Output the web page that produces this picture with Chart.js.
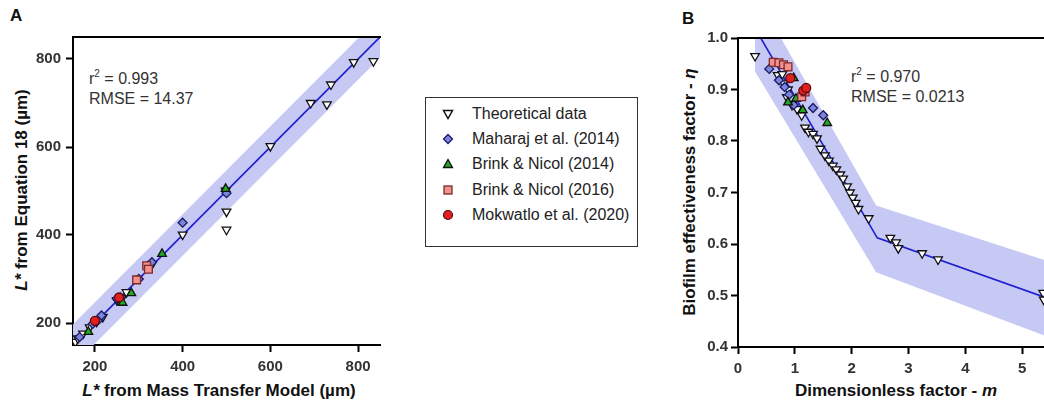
<!DOCTYPE html>
<html>
<head>
<meta charset="utf-8">
<script src="https://cdn.jsdelivr.net/npm/chart.js@4.4.1/dist/chart.umd.min.js"></script>
<style>
  html, body { margin: 0; padding: 0; background: #fff; }
  body { width: 1044px; height: 408px; overflow: hidden; position: relative;
         font-family: "Liberation Sans", Arial, sans-serif; }
  canvas { position: absolute; top: 0; z-index: 2; }
  #chartA { left: 0; }
  #chartB { left: 660px; }
  .lbl { position: absolute; white-space: nowrap; z-index: 1; }
  .panel { font-weight: bold; font-size: 17px; line-height: 17px; color: #111; }
  .stats { font-size: 16px; line-height: 20px; color: #333; }
  .stats sup { font-size: 10px; vertical-align: 7px; line-height: 0; }
  .xt { font-weight: bold; font-size: 17px; color: #111; transform: translate(-50%, -50%); }
  .yt { font-weight: bold; font-size: 17px; color: #111; transform: translate(-50%, -50%) rotate(-90deg); }
  #legend { position: absolute; left: 425px; top: 97px; width: 213px; height: 150px; z-index: 1;
            border: 1.5px solid #333; box-sizing: border-box; font-size: 16px; color: #222; }
  .item { position: absolute; left: 0; width: 210px; height: 20px; }
  .item svg { position: absolute; left: 16px; top: 4px; }
  .item span { position: absolute; left: 46px; top: 1px; white-space: nowrap; }
  #frameB { position: absolute; left: 737px; top: 37px; width: 310px; height: 0;
            border-top: 2px solid #000; z-index: 3; }
</style>
</head>
<body>
<canvas id="chartA" width="400" height="408"></canvas>
<canvas id="chartB" width="440" height="408"></canvas>
<div id="frameB"></div>

<div class="lbl panel" style="left:10px;top:7px;">A</div>
<div class="lbl panel" style="left:682px;top:10px;">B</div>
<div class="lbl stats" style="left:89px;top:69px;">r<sup>2</sup> = 0.993<br>RMSE = 14.37</div>
<div class="lbl stats" style="left:851px;top:67px;">r<sup>2</sup> = 0.970<br>RMSE = 0.0213</div>
<div class="lbl xt" style="left:219px;top:391px;"><i>L*</i> from Mass Transfer Model (µm)</div>
<div class="lbl yt" style="left:22px;top:190px;"><i>L*</i> from Equation 18 (µm)</div>
<div class="lbl xt" style="left:896px;top:391px;">Dimensionless factor - <i>m</i></div>
<div class="lbl yt" style="left:690px;top:192px;">Biofilm effectiveness factor - <i>η</i></div>
<div id="legend"></div>

<script>
// ─── Series names ───────────────────────────────────────────────────────────
const seriesNames = ['Theoretical data', 'Maharaj et al. (2014)', 'Brink & Nicol (2014)',
                     'Brink & Nicol (2016)', 'Mokwatlo et al. (2020)'];

// ─── Panel A: L* from model vs L* from Equation 18 ─────────────────────────
const theoAx = [155, 161, 173, 188, 204, 218, 250, 262, 272, 330, 400, 498, 500, 500, 600, 692, 729, 738, 790, 835];
const theoAy = [157, 165, 176, 190, 203, 214, 252, 257, 270, 333, 401, 501, 453, 412, 602, 700, 697, 742, 793, 795];
const mahAx = [165, 195, 208, 215, 250, 258, 300, 320, 330, 400, 500];
const mahAy = [168, 198, 207, 217, 255, 258, 300, 330, 338, 428, 495];
const brink14Ax = [185, 263, 283, 353, 498];
const brink14Ay = [180, 246, 268, 357, 505];
const brink16Ax = [295, 318, 322];
const brink16Ay = [298, 330, 322];
const mokAx = [200, 255];
const mokAy = [205, 258];
const fitAx = [150, 850];
const fitAy = [150, 850];
const bandAx = [150, 850];
const bandAupper = [197, 897];
const bandAlower = [103, 803];
const ticksA = [200, 400, 600, 800];

// ─── Panel B: m vs effectiveness factor ────────────────────────────────────
const theoBx = [0.30, 0.70, 0.78, 0.80, 0.86, 0.88, 0.95, 1.04, 1.12, 1.18, 1.24, 1.32, 1.39, 1.45, 1.53, 1.60,
                1.67, 1.73, 1.80, 1.85, 1.92, 1.97, 2.02, 2.07, 2.12, 2.30, 2.68, 2.78, 2.82, 3.24, 3.52, 5.37, 5.38];
const theoBy = [0.965, 0.928, 0.930, 0.912, 0.885, 0.900, 0.870, 0.862, 0.850, 0.826, 0.818, 0.814, 0.805, 0.785,
                0.772, 0.762, 0.752, 0.745, 0.735, 0.727, 0.712, 0.700, 0.690, 0.680, 0.668, 0.650, 0.612, 0.603,
                0.592, 0.582, 0.570, 0.505, 0.492];
const mahBx = [0.55, 0.72, 0.82, 0.90, 0.98, 1.32, 1.50];
const mahBy = [0.940, 0.918, 0.905, 0.890, 0.870, 0.864, 0.850];
const brink14Bx = [0.88, 0.98, 1.02, 1.14, 1.57];
const brink14By = [0.875, 0.922, 0.882, 0.860, 0.835];
const brink16Bx = [0.62, 0.72, 0.80, 0.88, 1.12, 1.18];
const brink16By = [0.953, 0.952, 0.948, 0.944, 0.886, 0.895];
const mokBx = [0.92, 1.15, 1.20];
const mokBy = [0.922, 0.898, 0.903];
const fitBx = [0.40, 2.45, 6];
const fitBy = [1.0, 0.612, 0.473];
const bandBx = [0.30, 2.43, 6];
const bandBupper = [1.088, 0.675, 0.547];
const bandBlower = [0.935, 0.545, 0.397];
const ticksBx = [0, 1, 2, 3, 4, 5];
const ticksBy = [0.4, 0.5, 0.6, 0.7, 0.8, 0.9, 1.0];

// ─── Styles ─────────────────────────────────────────────────────────────────
const markerFill = ['#ffffff', '#7b86d8', '#22a822', '#f3908c', '#e02020'];
const markerEdge = ['#111111', '#1a1a66', '#111111', '#7a2a2a', '#5a0a0a'];
const markerShape = ['triangle', 'rectRot', 'triangle', 'rect', 'circle'];
const markerRot = [180, 0, 0, 0, 0];
const markerSize = [5, 4.5, 5, 5.5, 4.5];
const fitColor = '#1f1fd0';
const bandColor = '#c7c9f5';
const font = '"Liberation Sans", Arial, sans-serif';

const pts = (xs, ys) => xs.map((x, i) => ({ x, y: ys[i] }));

function scatterSet(k, xs, ys) {
  return {
    label: seriesNames[k],
    data: pts(xs, ys),
    pointStyle: markerShape[k],
    rotation: markerRot[k],
    pointRadius: markerSize[k],
    pointBackgroundColor: markerFill[k],
    pointBorderColor: markerEdge[k],
    pointBorderWidth: 1.3,
    showLine: false,
  };
}

function buildDatasets(series, fitX, fitY, bandX, bandUp, bandLo) {
  const sets = series.map((s, k) => scatterSet(k, s[0], s[1]));
  // later series drawn on top of the theoretical ones
  sets.forEach((s, k) => { s.order = 5 - k; });
  sets.push({
    label: 'fit', data: pts(fitX, fitY), showLine: true, pointRadius: 0,
    borderColor: fitColor, borderWidth: 1.6, order: 8,
  });
  sets.push({
    label: 'upper', data: pts(bandX, bandUp), showLine: true, pointRadius: 0,
    borderWidth: 0, borderColor: 'rgba(0,0,0,0)', order: 10,
  });
  sets.push({
    label: 'lower', data: pts(bandX, bandLo), showLine: true, pointRadius: 0,
    borderWidth: 0, borderColor: 'rgba(0,0,0,0)', backgroundColor: bandColor,
    fill: '-1', order: 10,
  });
  return sets;
}

function axis(min, max, tickVals, fmt, pad, fit) {
  return {
    type: 'linear', min, max,
    afterBuildTicks: s => { s.ticks = tickVals.map(v => ({ value: v })); },
    afterFit: fit,
    border: { display: true, color: '#000', width: 2 },
    grid: { display: true, drawOnChartArea: false, drawTicks: true, tickLength: 7,
            tickWidth: 2, tickColor: '#000' },
    ticks: { color: '#333', padding: pad, font: { family: font, size: 15, weight: 'bold' },
             callback: v => fmt(v), maxRotation: 0, autoSkip: false },
  };
}

// bare axis on top: only its border line, as the frame of the plot
function topFrame(min, max) {
  return {
    type: 'linear', position: 'top', min, max,
    afterFit: s => { s.height = 0; },
    border: { display: true, color: '#000', width: 2 },
    grid: { display: false },
    ticks: { display: false },
  };
}

// extra frame stroke, drawn after everything else on the canvas
const frameLine = {
  id: 'frameLine',
  afterDraw(chart) {
    const a = chart.chartArea;
    const ctx = chart.ctx;
    ctx.save();
    ctx.strokeStyle = '#000';
    ctx.lineWidth = 2;
    ctx.beginPath();
    ctx.moveTo(a.left - 1, a.top);
    ctx.lineTo(a.right, a.top);
    ctx.stroke();
    ctx.restore();
  }
};

function makeChart(id, datasets, xs, ys, top, padding) {
  return new Chart(document.getElementById(id), {
    type: 'scatter',
    data: { datasets },
    options: {
      responsive: false,
      animation: false,
      devicePixelRatio: 1,
      layout: { padding },
      plugins: { legend: { display: false }, tooltip: { enabled: false } },
      scales: { x: xs, y: ys, xTop: top },
    },
    plugins: [frameLine],
  });
}

// ─── Panel A ────────────────────────────────────────────────────────────────
makeChart('chartA',
  buildDatasets([[theoAx, theoAy], [mahAx, mahAy], [brink14Ax, brink14Ay], [brink16Ax, brink16Ay], [mokAx, mokAy]],
                fitAx, fitAy, bandAx, bandAupper, bandAlower),
  axis(150, 850, ticksA, v => String(v), 6, s => { s.height = 63; }),
  axis(150, 850, ticksA, v => String(v), 5, s => { s.width = 73; }),
  topFrame(150, 850),
  { left: 0, top: 37, right: 20, bottom: 0 });

// ─── Panel B ────────────────────────────────────────────────────────────────
makeChart('chartB',
  buildDatasets([[theoBx, theoBy], [mahBx, mahBy], [brink14Bx, brink14By], [brink16Bx, brink16By], [mokBx, mokBy]],
                fitBx, fitBy, bandBx, bandBupper, bandBlower),
  axis(0, 6, ticksBx, v => String(v), 6, s => { s.height = 61; }),
  axis(0.4, 1.0, ticksBy, v => v.toFixed(1), 3, s => { s.width = 78; }),
  topFrame(0, 6),
  { left: 0, top: 38, right: 21, bottom: 0 });

// ─── Legend (HTML, between panels) ──────────────────────────────────────────
const legendRowTop = [6, 31, 56, 82, 107];
function markerSvg(k) {
  const f = markerFill[k], e = markerEdge[k];
  const shapes = [
    `<polygon points="1.5,2.5 10.5,2.5 6,10.5" fill="${f}" stroke="${e}" stroke-width="1.5"/>`,
    `<polygon points="6,1.5 10.5,6 6,10.5 1.5,6" fill="${f}" stroke="${e}" stroke-width="1.3"/>`,
    `<polygon points="6,1.5 10.5,9.5 1.5,9.5" fill="${f}" stroke="${e}" stroke-width="1.3"/>`,
    `<rect x="2" y="2" width="8" height="8" fill="${f}" stroke="${e}" stroke-width="1.3"/>`,
    `<circle cx="6" cy="6" r="4.5" fill="${f}" stroke="${e}" stroke-width="1.2"/>`,
  ];
  return `<svg width="12" height="12" viewBox="0 0 12 12">${shapes[k]}</svg>`;
}
const legend = document.getElementById('legend');
seriesNames.forEach((name, k) => {
  const row = document.createElement('div');
  row.className = 'item';
  row.style.top = legendRowTop[k] + 'px';
  row.innerHTML = markerSvg(k) + '<span></span>';
  row.querySelector('span').textContent = name;
  legend.appendChild(row);
});
</script>
</body>
</html>
